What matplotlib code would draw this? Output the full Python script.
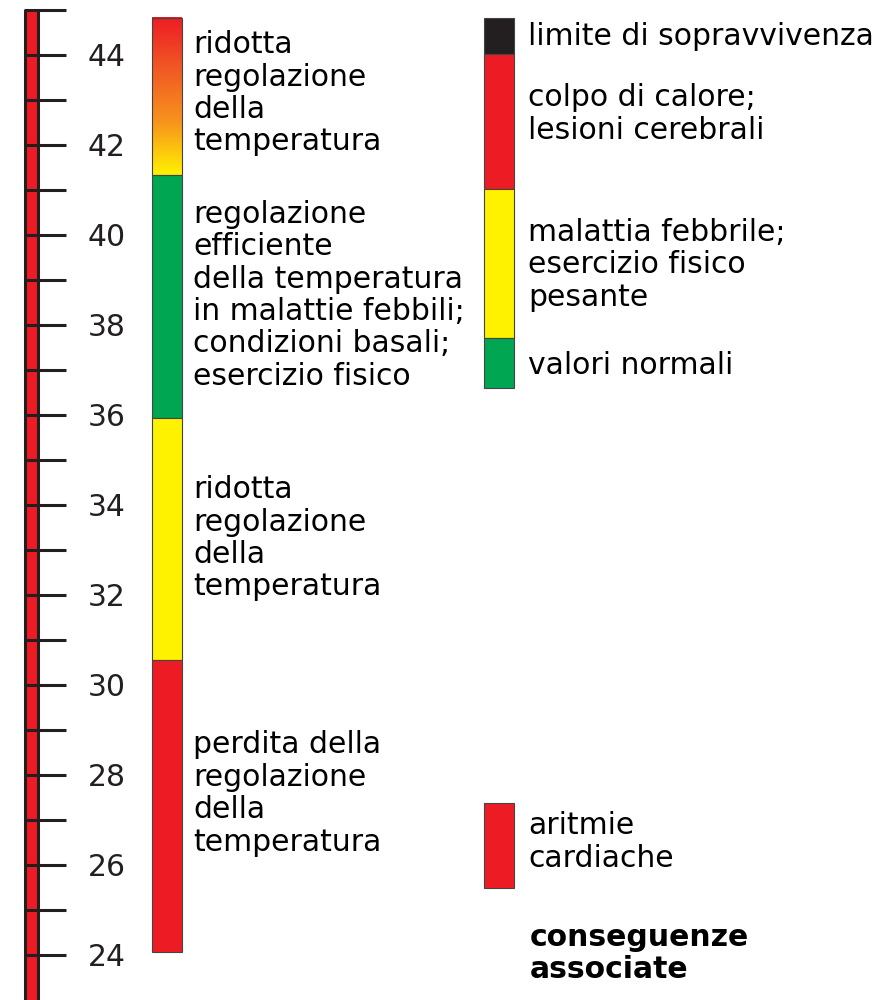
import numpy as np
import matplotlib
matplotlib.use("Agg")
import matplotlib.pyplot as plt
from matplotlib.colors import LinearSegmentedColormap

# dati: temperatura corporea (°C)
tick_vals = list(range(24, 46))
tick_labels = [str(t) for t in range(24, 45, 2)]

# colonna centrale: regolazione della temperatura
reg_lo = [41.33, 35.93, 30.56, 24.07]
reg_hi = [44.82, 41.33, 35.93, 30.56]
reg_col = ["gradient", "#00a651", "#fff200", "#ed1c24"]
reg_txt = ["ridotta\nregolazione\ndella\ntemperatura",
           "regolazione\nefficiente\ndella temperatura\nin malattie febbili;\ncondizioni basali;\nesercizio fisico",
           "ridotta\nregolazione\ndella\ntemperatura",
           "perdita della\nregolazione\ndella\ntemperatura"]
reg_txt_y = [43.15, 38.66, 33.26, 27.59]

# colonna destra: conseguenze associate
cons_lo = [44.02, 41.02, 37.71, 36.6, 25.49]
cons_hi = [44.82, 44.02, 41.02, 37.71, 27.38]
cons_col = ["#231f20", "#ed1c24", "#fff200", "#00a651", "#ed1c24"]
cons_txt = ["limite di sopravvivenza", "colpo di calore;\nlesioni cerebrali",
            "malattia febbrile;\nesercizio fisico\npesante", "valori normali",
            "aritmie\ncardiache"]
cons_txt_y = [44.42, 42.69, 39.34, 37.11, 26.51]

fig = plt.figure(figsize=(8.94, 10), dpi=100)
ax = fig.add_axes([0, 0, 1, 1])
ax.set_xlim(0, 894)
ax.set_ylim(23, 45.222)
ax.axis("off")

ink = "#231f20"
fs = 21.5
ls = 1.15

# termometro
ax.bar(31, 45 - 22.5, bottom=22.5, width=14, color="#ed1c24", zorder=1)
ax.vlines([24.5, 37.5], 22.5, 45, color=ink, lw=2.2, zorder=2)
ax.hlines(tick_vals, 23.5, 66, color=ink, lw=2.2, zorder=2)
for lab in tick_labels:
    ax.text(107, int(lab), lab, ha="center", va="center_baseline", fontsize=fs, color=ink)

# colonna centrale
grad = LinearSegmentedColormap.from_list("g", ["#fff200", "#f7941d", "#f15a24", "#ed1c24"])
for lo, hi, c in zip(reg_lo, reg_hi, reg_col):
    if c == "gradient":
        ax.imshow(np.linspace(0, 1, 256).reshape(-1, 1), cmap=grad, origin="lower",
                  extent=(152, 182, lo, hi), aspect="auto", zorder=1)
        ax.bar(167, hi - lo, bottom=lo, width=30, fill=False, edgecolor="#444444", lw=0.8, zorder=2)
    else:
        ax.bar(167, hi - lo, bottom=lo, width=30, color=c, edgecolor="#444444", lw=0.8, zorder=2)
for t, y in zip(reg_txt, reg_txt_y):
    ax.text(193, y, t, ha="left", va="center", fontsize=fs, linespacing=ls, color="black")

# colonna destra
for lo, hi, c in zip(cons_lo, cons_hi, cons_col):
    ax.bar(499, hi - lo, bottom=lo, width=30, color=c, edgecolor="#444444", lw=0.8, zorder=2)
for t, y in zip(cons_txt, cons_txt_y):
    ax.text(528, y, t, ha="left", va="center", fontsize=fs, linespacing=ls, color="black")

ax.text(530, 24.03, "conseguenze\nassociate", ha="left", va="center", fontsize=fs,
        fontweight="bold", linespacing=1.1, color="black")

fig.savefig("out.png", dpi=100)
